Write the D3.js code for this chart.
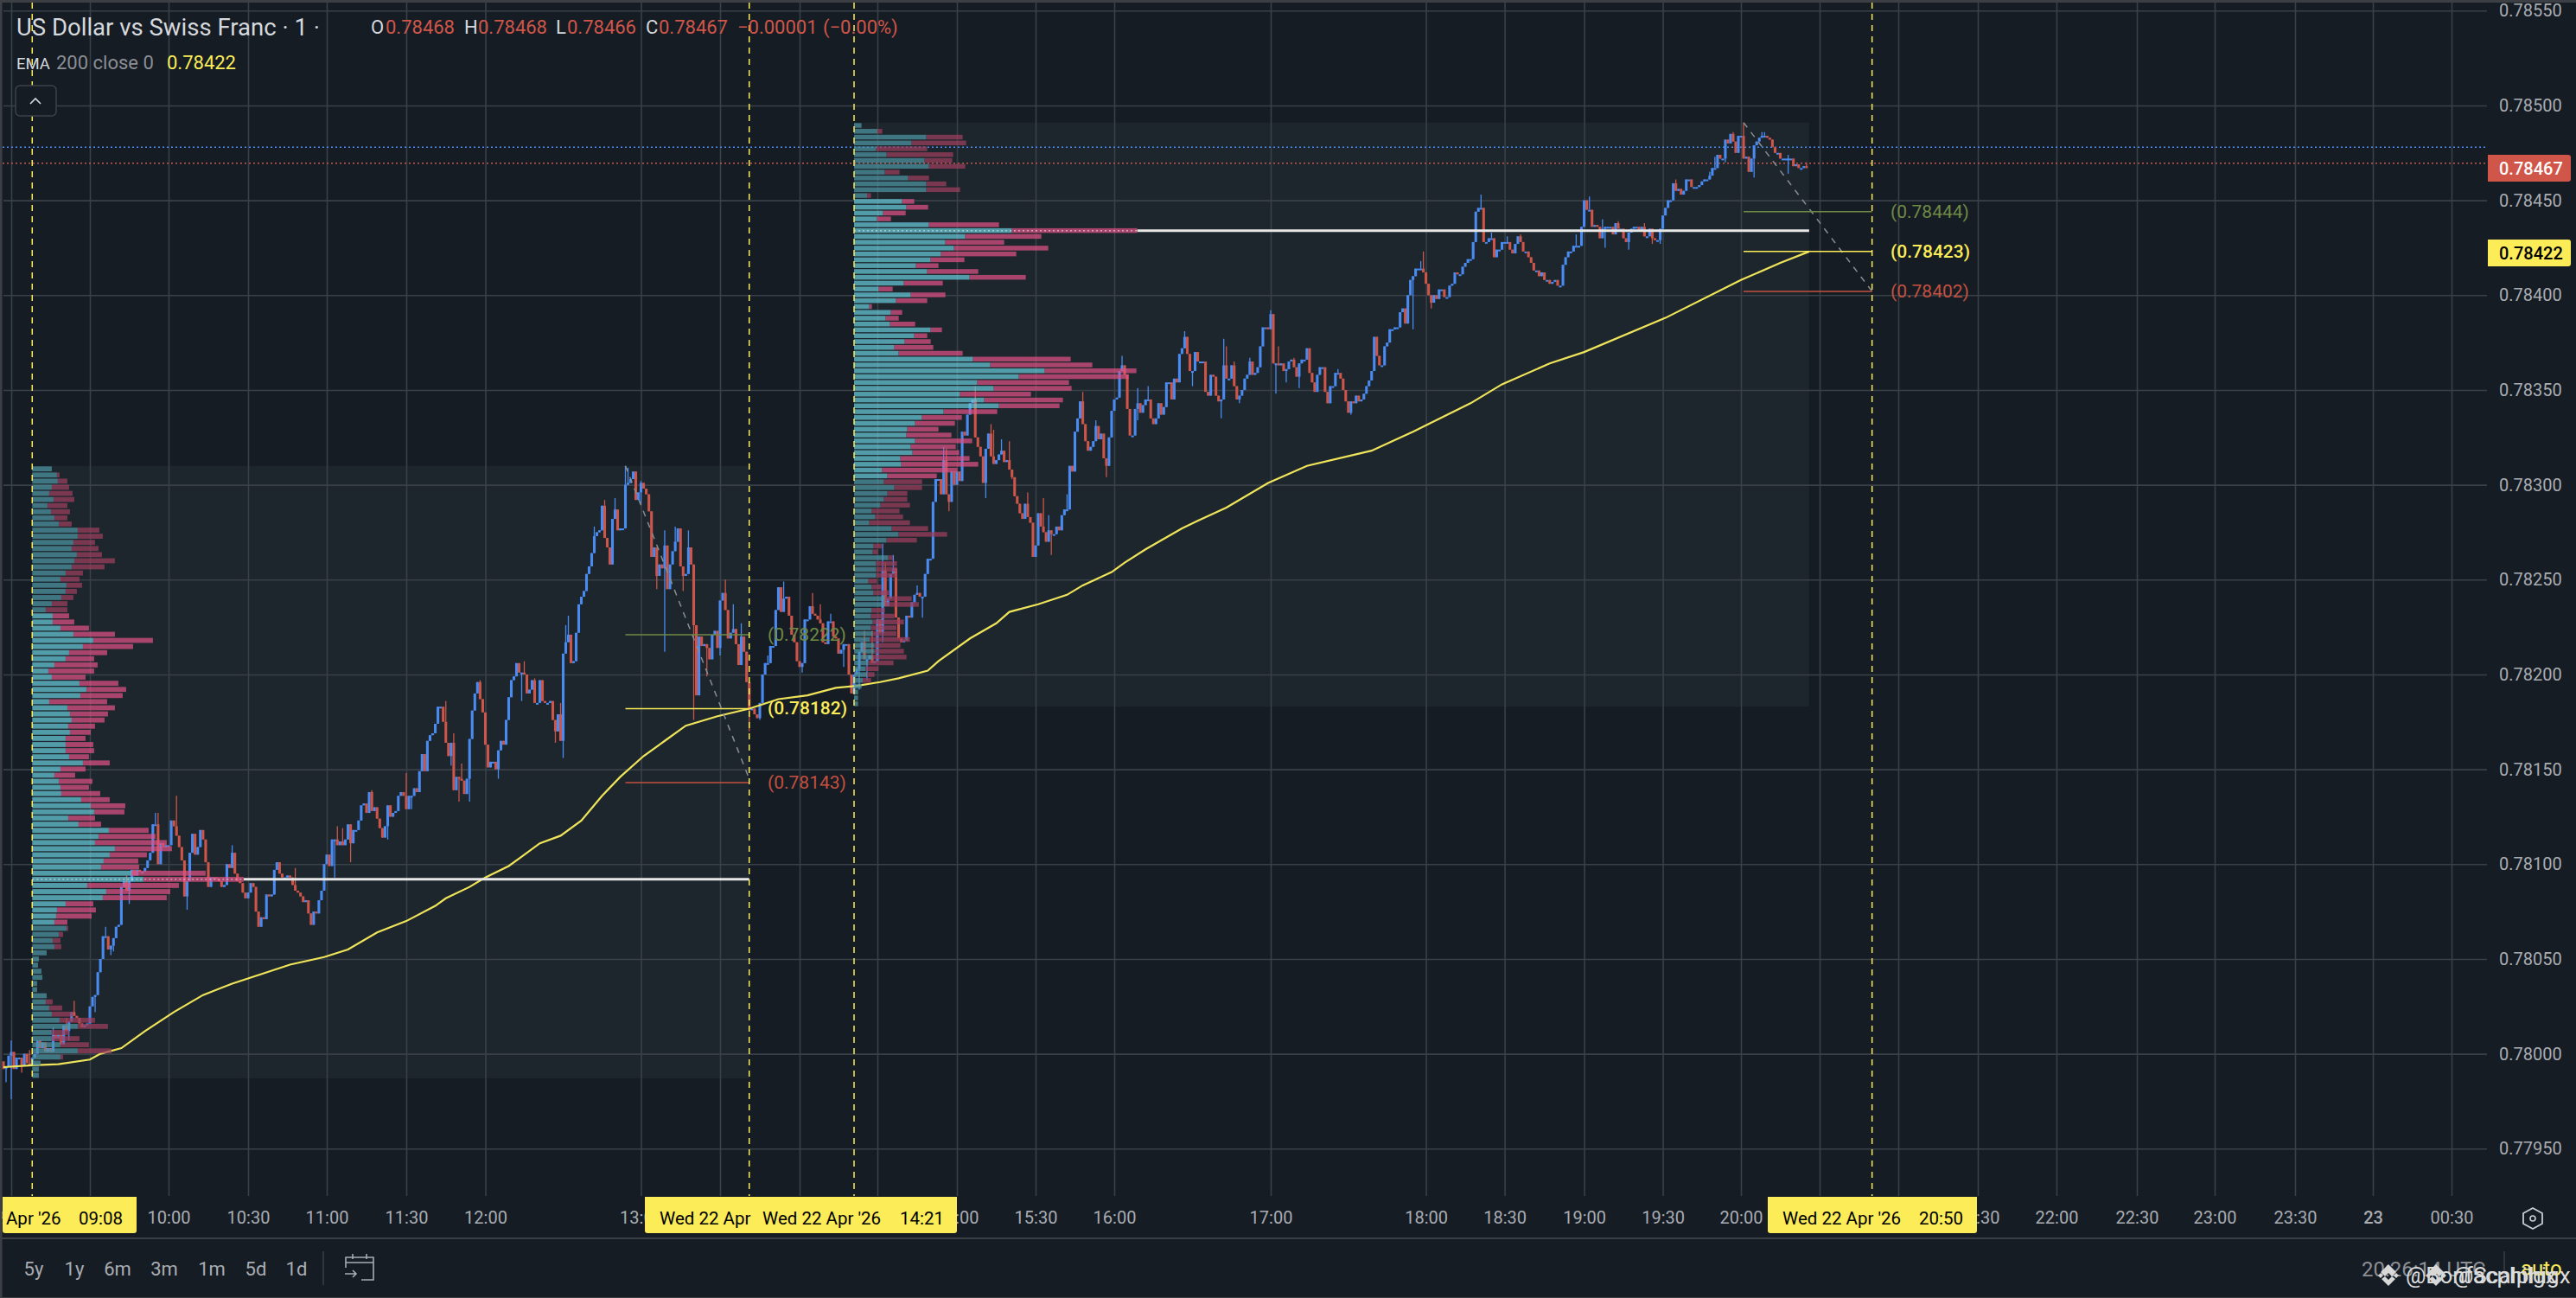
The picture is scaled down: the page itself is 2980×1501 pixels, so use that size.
<!DOCTYPE html>
<html><head><meta charset="utf-8">
<script src="https://cdn.jsdelivr.net/npm/d3@7"></script>
<style>html,body{margin:0;padding:0;background:#161c24;overflow:hidden}svg{display:block}text{font-family:Roboto,sans-serif}</style>
</head><body><svg id="c" width="2980" height="1501"></svg>
<script>
// closes in 1e-5 price units above 0.78000, one per minute from 08:57
const closes0857=[-8,-7,-1,1,-8,-2,-2,-6,0,-5,-6,-2,0,7,3,6,1,3,1,10,8,10,5,15,12,17,22,20,19,16,14,15,16];
const closes0930=[25,30,31,43,50,62,62,55,57,61,67,68,88,91,86,91,97,94,97,96,96,98,102,106,121,121,100,111,109,110];
const closes1000=[110,123,120,115,109,102,83,91,106,116,105,109,118,113,101,88,93,93,92,91,88,89,100,98,106,95,91,90,85,82];
const closes1030=[85,90,88,75,67,72,71,84,83,84,97,101,95,93,93,94,93,89,86,85,83,80,81,74,68,75,74,81,86,100];
const closes1100=[105,99,113,113,110,112,110,113,121,111,118,118,123,131,132,127,138,128,130,124,119,114,120,131,125,127,128,136,138,136];
const closes1130=[129,136,136,140,138,149,158,149,165,168,169,174,183,183,175,164,157,164,139,146,145,144,137,145,166,181,190,196,187,180];
const closes1200=[163,151,154,154,150,160,165,163,176,188,197,199,206,201,201,200,190,192,197,185,185,197,186,185,185,186,176,170,179,165];
const closes1230=[211,217,221,206,207,222,237,241,244,253,257,264,273,275,276,289,272,267,258,282,287,276,277,277,300,301,303,307,292,296];
const closes1300=[301,298,295,286,262,267,252,258,256,268,245,258,265,270,277,257,252,253,267,258,226,189,220,215,216,214,208,221,223,214];
const closes1330=[239,243,234,219,222,224,216,205,220,212,196,182,182,179,177,185,200,206,206,215,215,234,246,233,240,241,231,221,217,207];
const closes1400=[204,206,229,229,236,232,231,229,227,217,216,228,228,220,219,211,213,216,216,200,190];
const closes1421=[200,203,212,217,208,208,210,206,207];
const closes1430=[229,222,255,236,240,253,256,230,219,217,218,231,230,238,242,243,241,241,253,261,261,291,303,303,295,313,295,291,307,300];
const closes1500=[307,302,328,326,337,343,345,325,320,315,301,319,327,315,311,313,316,318,312,313,308,304,294,290,285,282,290,283,280,262];
const closes1530=[268,285,278,275,270,276,274,274,278,276,284,287,287,310,307,328,335,344,332,323,318,320,323,331,324,327,314,310,325,339];
const closes1600=[345,346,360,363,358,340,326,326,340,343,338,342,345,345,335,332,335,343,337,341,354,354,345,356,354,369,372,378,369,360];
const closes1630=[360,370,365,365,365,349,347,358,357,347,344,345,363,356,356,363,352,345,347,350,356,358,365,358,359,362,373,383,383,382];
const closes1700=[390,364,364,363,364,360,361,365,366,362,357,364,366,366,372,359,354,349,358,362,362,349,343,352,352,359,359,356,350,344];
const closes1730=[338,344,343,347,344,345,348,352,355,360,378,368,363,363,373,375,382,382,383,383,391,393,385,400,408,410,414,414,414,412];
const closes1800=[406,400,396,400,398,403,403,399,399,405,406,412,411,411,415,417,419,419,428,444,446,446,428,428,430,430,420,424,424,428];
const closes1830=[428,428,424,422,427,431,428,423,423,420,417,413,413,410,412,408,408,406,407,408,405,405,416,420,423,423,426,426,426,436];
const closes1900=[450,445,445,436,437,436,430,435,436,436,436,432,438,435,435,430,428,433,435,436,436,434,436,431,431,435,430,429,429,435];
const closes1930=[442,446,450,450,459,455,456,453,455,461,461,457,457,457,458,460,461,461,463,467,467,474,472,472,482,480,485,481,475,484];
const closes2000=[484,472,473,465,472,479,481,483,484,484,483,482,478,475,475,472,472,472,472,472,468,469,467,467,468,467];
// wick extremes [minute of day, 1e-5 units above 0.78000]
const highPts=[[540,7],[547,2],[556,14],[561,19],[564,28],[576,67],[584,94],[595,127],[596,127],[603,136],[624,110],[648,98],[664,120],[666,119],[677,139],[690,148],[699,162],[705,186],[708,169],[711,153],[718,197],[733,206],[735,207],[739,198],[749,185],[751,226],[752,231],[762,278],[766,292],[770,293],[774,310],[775,309],[780,302],[782,297],[789,276],[793,278],[798,276],[812,250],[815,237],[818,227],[828,210],[834,249],[845,243],[848,237],[852,232],[865,223],[868,223],[872,269],[873,259],[876,263],[885,247],[889,256],[895,320],[896,319],[907,352],[913,332],[914,329],[917,324],[920,323],[927,296],[933,293],[935,284],[942,295],[948,349],[953,334],[963,368],[969,351],[973,352],[987,381],[1002,377],[1003,373],[1006,365],[1012,367],[1020,392],[1023,373],[1029,367],[1046,361],[1078,418],[1079,423],[1101,453],[1105,433],[1111,431],[1116,432],[1137,432],[1142,452],[1147,440],[1153,439],[1163,438],[1175,461],[1188,465],[1190,473],[1197,486],[1201,491],[1208,486],[1209,486],[1218,474],[1225,470]];
const lowPts=[[538,-15],[540,-24],[544,-10],[562,7],[572,22],[578,52],[579,54],[585,79],[607,76],[663,93],[669,101],[683,113],[692,129],[707,152],[710,133],[714,133],[725,145],[734,186],[747,164],[750,156],[780,290],[786,245],[789,212],[796,244],[800,176],[805,199],[810,210],[821,170],[825,176],[841,201],[857,204],[863,192],[866,197],[872,217],[887,230],[897,286],[911,293],[921,303],[929,278],[936,263],[957,304],[969,334],[990,352],[1001,335],[1008,343],[1022,348],[1026,354],[1031,351],[1051,337],[1075,382],[1082,393],[1148,425],[1157,424],[1166,427],[1169,427],[1194,470],[1198,478],[1205,462],[1218,464]];
// EMA 200
const emaMinutes=[537,548,558,570,574,582,591,602,613,624,635,646,659,668,679,690,701,705,714,720,729,734,741,749,757,765,772,781,789,797,809,821,832,843,854,862,871,878,889,893,905,915,920,931,942,948,959,964,972,986,992,1003,1019,1034,1059,1075,1097,1109,1127,1140,1171,1200,1215,1226];
const emaValues=[-7,-6,-5.5,-3,0,3,12,22,31,37,42,47,51,55,64,70,78,82,88,93,99,104,111,115,123,136,146,157,165,173,178,182,187,189,193,194,196,198,202,207,219,227,233,237,242,247,254,259,266,277,281,288,301,310,318,328,343,353,364,370,388,408,417,423];
// volume profiles, top row first
const prof1Up=[68,86,89,68,59,74,53,65,77,92,158,158,143,137,155,146,137,116,98,119,116,101,68,47,71,71,98,143,212,176,128,116,77,56,68,164,188,167,59,122,131,137,125,131,116,116,116,128,176,98,77,92,98,101,170,203,215,125,161,266,230,218,287,269,248,239,344,386,191,257,245,116,86,83,77,119,92,71,77,50,23,20,32,35,17,17,50,47,59,68,95,158,68,68,98,158,98,29,23,23];
const prof1Total=[68,95,122,128,140,146,122,131,122,137,233,245,218,230,242,287,251,176,164,173,155,143,122,122,128,146,197,287,419,350,260,215,227,215,185,299,326,314,260,287,263,251,218,203,185,212,215,197,269,185,149,209,197,236,269,323,320,218,239,404,428,467,485,398,368,371,602,734,509,479,467,212,221,206,122,125,107,98,101,50,23,20,32,35,17,17,50,71,104,143,218,263,128,164,197,275,107,29,23,23];
const prof2Up=[26,81,251,200,77,113,245,260,107,188,251,251,45,167,182,101,80,260,548,386,317,347,302,266,215,254,401,173,86,197,146,53,128,110,125,266,209,176,140,155,413,473,662,572,428,485,368,452,503,311,236,212,185,182,212,197,203,161,164,98,116,104,140,116,104,92,62,74,53,131,155,113,68,65,119,77,77,77,50,62,68,107,107,62,59,65,59,65,55,71,71,65,50,41,45,30,26,14,14,14];
const prof2Total=[26,98,377,389,254,344,341,386,158,260,320,368,59,209,257,179,128,503,983,650,521,674,563,383,293,431,596,308,134,317,254,62,167,155,212,305,254,266,275,377,752,827,980,953,746,755,614,725,713,497,374,350,293,338,410,353,365,401,431,359,287,236,236,185,185,194,158,170,194,257,323,218,98,83,135,149,149,149,80,95,122,200,225,107,140,173,147,147,194,161,173,182,137,85,71,59,26,14,14,14];
// axes
const priceTicks=[0.7855,0.785,0.7845,0.784,0.7835,0.783,0.7825,0.782,0.7815,0.781,0.7805,0.78,0.7795];
const timeTicks=[540,570,600,630,660,690,720,780,810,840,870,900,930,960,1020,1080,1110,1140,1170,1200,1230,1260,1290,1320,1350,1380,1410,1440,1470];
const timeLabels=["09:00","09:30","10:00","10:30","11:00","11:30","12:00","13:00","13:30","14:00","14:30","15:00","15:30","16:00","17:00","18:00","18:30","19:00","19:30","20:00","20:30","21:00","21:30","22:00","22:30","23:00","23:30","23","00:30"];
const rangeLabels=["5y","1y","6m","3m","1m","5d","1d"];

const C={bg:"#161c24",box:"#1c262c",grid:"#3a4048",up:"#4a8bf2",down:"#cd5549",yellow:"#fbec58",green:"#6f8a45",red:"#c4503f",axis:"#a9acb2",border:"#3c3f44"};
const candleCloses=[].concat(closes0857,closes0930,closes1000,closes1030,closes1100,closes1130,closes1200,closes1230,closes1300,closes1330,closes1400,closes1421,closes1430,closes1500,closes1530,closes1600,closes1630,closes1700,closes1730,closes1800,closes1830,closes1900,closes1930,closes2000);
const firstMinute=537;
const P=u=>0.78+u/1e5;
const x=d3.scaleLinear().domain([537].concat(timeTicks,[1500])).range([4,13,104,195,287,378,470,561.5,741.5,833,925,1015,1107,1198,1289,1470,1649.6,1740.6,1832.6,1923.6,2014,2105,2196,2288,2379,2472,2562,2655,2745,2836,2927]);
const y=d3.scaleLinear().domain([0.7855,0.7795]).range([12.3,1328.3]);
const vol=d3.scaleLinear().domain([0,1000]).range([0,333.3]);

const svg=d3.select("#c");
svg.append("rect").attr("width",2980).attr("height",1501).attr("fill",C.bg);

// session boxes
const boxes=[{t0:548,t1:821,hi:310,lo:-13},{t0:861,t1:1226,hi:491,lo:183}];
svg.append("g").selectAll("rect").data(boxes).join("rect")
 .attr("x",d=>x(d.t0)).attr("width",d=>x(d.t1)-x(d.t0)).attr("y",d=>y(P(d.hi))).attr("height",d=>y(P(d.lo))-y(P(d.hi))).attr("fill",C.box);

// grid
const gridY=svg.append("g").attr("transform","translate(4,0)").call(d3.axisRight(y).tickValues(priceTicks).tickSize(2873).tickFormat(""));
const gridX=svg.append("g").attr("transform","translate(0,3)").call(d3.axisBottom(x).tickValues(timeTicks).tickSize(1380).tickFormat(""));
[gridY,gridX].forEach(g=>{g.select(".domain").remove();g.selectAll("line").attr("stroke",C.grid).attr("stroke-width",1.6);});

// dotted price lines
const dotted=[{u:478,c:"#4a8bf2"},{u:469.5,c:"#c8574b"}];
svg.append("g").selectAll("line").data(dotted).join("line")
 .attr("x1",3).attr("x2",2877).attr("y1",d=>y(P(d.u))).attr("y2",d=>y(P(d.u)))
 .attr("stroke",d=>d.c).attr("stroke-width",1.5).attr("stroke-dasharray","2 3");

// candles
const hiMap=new Map(highPts),loMap=new Map(lowPts);
const candles=candleCloses.map((c,i)=>{const m=firstMinute+i,o=i?candleCloses[i-1]:-4;
 return {m,o,c,h:Math.max(o,c,hiMap.has(m)?hiMap.get(m):-99),l:Math.min(o,c,loMap.has(m)?loMap.get(m):999)};});
const cg=svg.append("g");
cg.selectAll("line").data(candles).join("line")
 .attr("x1",d=>x(d.m)).attr("x2",d=>x(d.m)).attr("y1",d=>y(P(d.h))).attr("y2",d=>y(P(d.l)))
 .attr("stroke",d=>d.c>=d.o?C.up:C.down).attr("stroke-width",1.3);
cg.selectAll("rect").data(candles).join("rect")
 .attr("x",d=>x(d.m)-1.55).attr("width",3.1)
 .attr("y",d=>y(P(Math.max(d.o,d.c))))
 .attr("height",d=>Math.max(2,Math.abs(y(P(d.o))-y(P(d.c)))))
 .attr("fill",d=>d.c>=d.o?C.up:C.down);

// EMA
const emaPts=emaMinutes.map((m,i)=>[m,emaValues[i]]);
svg.append("path").datum(emaPts)
 .attr("d",d3.line().x(d=>x(d[0])).y(d=>y(P(d[1])))).attr("fill","none").attr("stroke","#efe45a").attr("stroke-width",2.2);

// volume profiles
const profiles=[{t0:548,hi:310,lo:-13,up:prof1Up,tot:prof1Total,vah:233,val:68},{t0:861,hi:491,lo:183,up:prof2Up,tot:prof2Total,vah:452,val:303}];
profiles.forEach(p=>{
 const n=p.up.length,step=(p.hi-p.lo)/n,x0=x(p.t0);
 const rows=p.up.map((v,i)=>({i,up:v,tot:p.tot[i],u:p.hi-step*(i+0.5)}));
 const inVA=r=>r.u<=p.vah&&r.u>=p.val;
 const h=r=>y(P(p.hi-step*(r.i+1)))-y(P(p.hi-step*r.i));
 const g=svg.append("g").attr("opacity",0.72);
 g.selectAll(".u").data(rows).join("rect").attr("class","u")
  .attr("x",x0).attr("width",r=>vol(r.up)).attr("y",r=>y(P(p.hi-step*r.i))+0.6).attr("height",r=>h(r)-1.3)
  .attr("fill",r=>inVA(r)?"#68cada":"#4e95a4");
 g.selectAll(".d").data(rows).join("rect").attr("class","d")
  .attr("x",r=>x0+vol(r.up)).attr("width",r=>vol(r.tot-r.up)).attr("y",r=>y(P(p.hi-step*r.i))+0.6).attr("height",r=>h(r)-1.3)
  .attr("fill",r=>inVA(r)?"#e05285":"#9e3e5e");
});

// points of control
const pocs=[{u:92,t0:548,t1:821,vol:734},{u:434,t0:861,t1:1226,vol:983}];
svg.append("g").selectAll("line").data(pocs).join("line")
 .attr("x1",d=>x(d.t0)+vol(d.vol)).attr("x2",d=>x(d.t1)).attr("y1",d=>y(P(d.u))).attr("y2",d=>y(P(d.u)))
 .attr("stroke","#e6e6e6").attr("stroke-width",3);
svg.append("g").selectAll("line").data(pocs).join("line")
 .attr("x1",d=>x(d.t0)).attr("x2",d=>x(d.t0)+vol(d.vol)).attr("y1",d=>y(P(d.u))).attr("y2",d=>y(P(d.u)))
 .attr("stroke","#f0f0f0").attr("stroke-opacity",.55).attr("stroke-width",1.5).attr("stroke-dasharray","2 3");

// fib projections
const fibs=[{t0:774,t1:821,hi:310,end:145,levels:[[222,221,C.green],[182,182,C.yellow],[143,143,C.red]],lx:888},
            {t0:1201,t1:1250,hi:491,end:402,levels:[[444,444,C.green],[423,423,C.yellow],[402,402,C.red]],lx:2187}];
fibs.forEach(f=>{
 svg.append("line").attr("x1",x(f.t0)).attr("x2",x(f.t1)).attr("y1",y(P(f.hi))).attr("y2",y(P(f.end)))
  .attr("stroke","#8a8d92").attr("stroke-width",1.5).attr("stroke-dasharray","7 7");
 const g=svg.append("g");
 g.selectAll("line").data(f.levels).join("line").attr("x1",x(f.t0)).attr("x2",x(f.t1))
  .attr("y1",d=>y(P(d[1]))).attr("y2",d=>y(P(d[1]))).attr("stroke",d=>d[2]).attr("stroke-width",1.5);
 g.selectAll("text").data(f.levels).join("text").attr("x",f.lx).attr("y",d=>y(P(d[1]))+7)
  .attr("fill",d=>d[2]).attr("font-size",21).attr("font-weight",d=>d[2]===C.yellow?500:400)
  .text(d=>"("+(0.78+d[0]/1e5).toFixed(5)+")");
});

// vertical dashed session markers
const markers=[548,821,861,1250];
svg.append("g").selectAll("line").data(markers).join("line")
 .attr("x1",d=>x(d)).attr("x2",d=>x(d)).attr("y1",3).attr("y2",1383)
 .attr("stroke",C.yellow).attr("stroke-width",1.5).attr("stroke-dasharray","7 6");

// price axis
const ax=svg.append("g").attr("transform","translate(2891,0)").call(d3.axisRight(y).tickValues(priceTicks).tickSize(0).tickPadding(0).tickFormat(d3.format(".5f")));
ax.select(".domain").remove();
ax.selectAll("text").attr("fill",C.axis).attr("font-size",20).attr("font-family","Roboto,sans-serif");
const priceTags=[{u:467,bg:"#cf5649",fg:"#fff"},{u:422,bg:C.yellow,fg:"#000"}];
const ptg=svg.append("g").selectAll("g").data(priceTags).join("g");
const tagY=d=>d.u===467?179:277;
ptg.append("path").attr("d",d=>`M2878 ${tagY(d)}h93a3 3 0 0 1 3 3v25a3 3 0 0 1 -3 3h-93z`).attr("fill",d=>d.bg);
ptg.append("text").attr("x",2891).attr("y",d=>tagY(d)+23).attr("font-size",20).attr("font-weight",500).attr("fill",d=>d.fg).text(d=>P(d.u).toFixed(5));

// time axis
const tl=new Map(timeTicks.map((t,i)=>[t,timeLabels[i]]));
const tx=svg.append("g").attr("transform","translate(0,1401)").call(d3.axisBottom(x).tickValues(timeTicks).tickSize(0).tickPadding(0).tickFormat(d=>tl.get(d)));
tx.select(".domain").remove();
tx.selectAll("text").attr("fill",C.axis).attr("font-size",20).attr("font-family","Roboto,sans-serif").attr("font-weight",d=>d===1440?500:400);

// crosshair date tags
const tags=[{x0:3,x1:158,parts:[["Apr '26",7],["09:08",91]]},
 {x0:746,x1:1107,parts:[["Wed 22 Apr",763],["Wed 22 Apr '26",882],["14:21",1041]]},
 {x0:2045,x1:2287,parts:[["Wed 22 Apr '26",2062],["20:50",2220]]}];
tags.forEach(t=>{
 svg.append("path").attr("d",`M${t.x0} 1384H${t.x1}v39a3 3 0 0 1 -3 3H${t.x0+3}a3 3 0 0 1 -3 -3z`).attr("fill",C.yellow);
 t.parts.forEach(p=>svg.append("text").attr("x",p[1]).attr("y",1416).attr("font-size",20.5).attr("fill","#000").text(p[0]));
});

// frame
svg.append("rect").attr("width",2980).attr("height",3).attr("fill",C.border);
svg.append("rect").attr("y",1500).attr("width",2980).attr("height",1).attr("fill",C.border);
svg.append("rect").attr("width",2.5).attr("height",1501).attr("fill",C.border);
svg.append("rect").attr("y",1431).attr("width",2980).attr("height",2).attr("fill",C.border);

// legend
const T=(s,xx,yy,fill,size,w)=>svg.append("text").attr("x",xx).attr("y",yy).attr("fill",fill).attr("font-size",size).attr("font-weight",w||400).text(s);
T("US Dollar vs Swiss Franc · 1 ·",19,41,"#d5d8dc",27.5);
[["O",429],["H",537],["L",643],["C",747]].forEach(a=>T(a[0],a[1],39,"#d5d8dc",22));
[["0.78468",446],["0.78468",553],["0.78466",656],["0.78467",762],["−0.00001",853],["(−0.00%)",952]].forEach(a=>T(a[0],a[1],39,"#cf5649",22));
T("EMA",19,80,"#d5d8dc",18.5);T("200 close 0",65,80,"#8b8e94",22);T("0.78422",193,80,C.yellow,22);
svg.append("rect").attr("x",18).attr("y",99).attr("width",47).attr("height",35).attr("rx",5).attr("fill",C.bg).attr("stroke","#3d4249").attr("stroke-width",1.5);
svg.append("path").attr("d","M35 120l6 -6l6 6").attr("fill","none").attr("stroke","#d5d8dc").attr("stroke-width",1.6);

// range buttons
const rangeX=[39,86,136,190,245,296,343];
svg.append("g").selectAll("text").data(rangeLabels).join("text").attr("x",(d,i)=>rangeX[i]).attr("y",1475).attr("text-anchor","middle").attr("font-size",22).attr("fill",C.axis).text(d=>d);
svg.append("line").attr("x1",374).attr("x2",374).attr("y1",1447).attr("y2",1486).attr("stroke",C.border).attr("stroke-width",1.5);
svg.append("path").attr("d","M400 1466v-12h32v26h-14M400 1460h32M408 1450v6M424 1450v6M399 1473h13m-4 -4l4 4l-4 4")
 .attr("fill","none").attr("stroke","#a9acb2").attr("stroke-width",1.6);

// hex settings icon
svg.append("path").attr("d","M2930 1397l11 6v12l-11 6l-11 -6v-12z").attr("fill","none").attr("stroke","#c9ccd1").attr("stroke-width",1.8);
svg.append("circle").attr("cx",2930).attr("cy",1409).attr("r",3).attr("fill","none").attr("stroke","#c9ccd1").attr("stroke-width",1.6);

// status
T("20:26:14 UTC",2732,1476,"#8c8f94",24);
svg.append("line").attr("x1",2897).attr("x2",2897).attr("y1",1447).attr("y2",1486).attr("stroke",C.border).attr("stroke-width",1.5);
T("auto",2916,1475,C.yellow,24);
// overlapping watermarks
[[2763,"@Bonfacphilgx",2783],[2818,"@Scalphigx",2838]].forEach(w=>{
 svg.append("path").attr("d",`M${w[0]} 1462l9 9l-5 5l-4 -4l-4 4l-5 -5zM${w[0]-12} 1475l3 -3l3 3l-3 3zM${w[0]+12} 1475l-3 -3l-3 3l3 3zM${w[0]-8} 1479l8 8l8 -8l-4 -3l-4 4l-4 -4z`).attr("fill","#d8d8d8");
 T(w[1],w[2],1484,"#dcdcdc",26);
});
</script></body></html>
